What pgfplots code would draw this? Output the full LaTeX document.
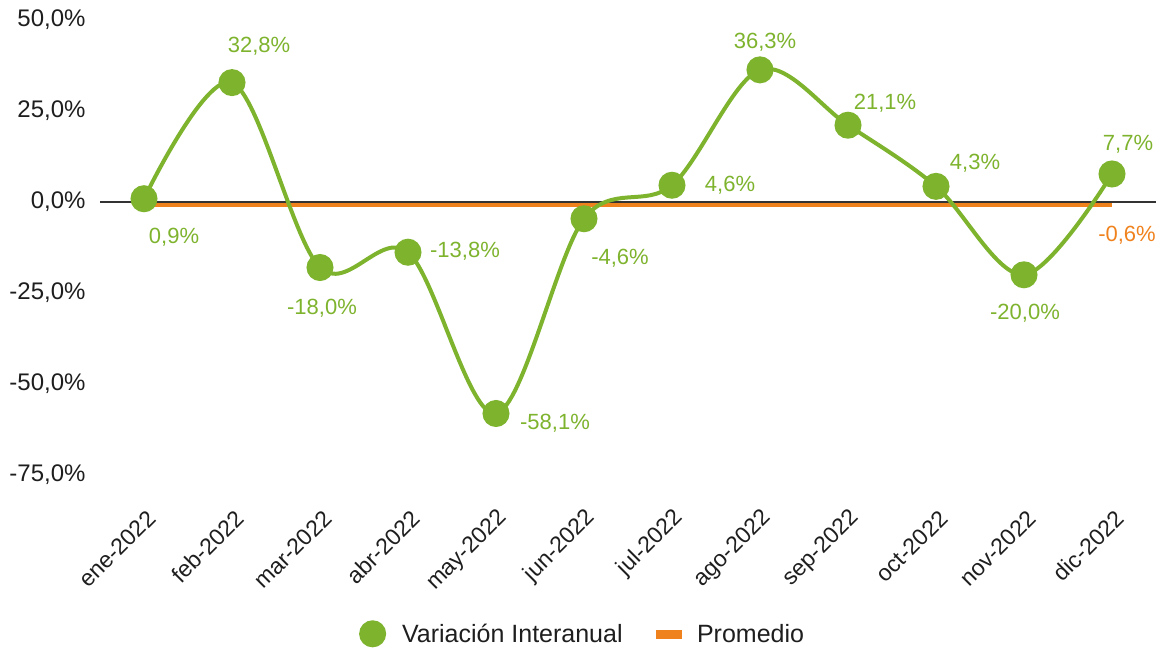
\documentclass[border=0pt]{standalone}
\usepackage{pgfplots}
\pgfplotsset{compat=1.18}
\usepackage{fontspec}
\setmainfont{Liberation Sans}
\definecolor{vgreen}{HTML}{7EB32E}
\definecolor{vorange}{HTML}{F0821E}
\definecolor{txt}{HTML}{1E1E1E}
\begin{document}
\begin{tikzpicture}
\begin{axis}[
  scale only axis,
  width=1056pt, height=455pt,
  xmin=-0.5, xmax=11.5,
  ymin=-75, ymax=50,
  axis line style={draw=none},
  tick style={draw=none},
  xtick={0,...,11},
  xticklabels={ene-2022,feb-2022,mar-2022,abr-2022,may-2022,jun-2022,jul-2022,ago-2022,sep-2022,oct-2022,nov-2022,dic-2022},
  ytick={-75,-50,-25,0,25,50},
  yticklabels={{-75,0\%},{-50,0\%},{-25,0\%},{0,0\%},{25,0\%},{50,0\%}},
  yticklabel style={font=\fontsize{24}{28}\selectfont, text=txt, xshift=-11pt},
  xticklabel style={font=\fontsize{23}{27}\selectfont, text=txt, xshift=10pt, yshift=-37pt, rotate=45, anchor=east},
  clip=false,
  legend style={at={(0.457,-0.349)}, anchor=center, draw=none, font=\fontsize{25}{29}\selectfont, text=txt, legend columns=2,
    /tikz/every odd column/.append style={column sep=14pt},
    /tikz/every even column/.append style={column sep=31pt}},
]
\coordinate (sw) at (rel axis cs:0,0);
\coordinate (ne) at (rel axis cs:1,1);
\addplot[vorange, line width=6.5pt, forget plot] coordinates {(0,-0.6) (11,-0.6)};
\draw[color=black!80, line width=2.5pt] (axis cs:-0.5,0) -- (axis cs:11.5,0);
\addplot[vgreen, line width=4pt, smooth, tension=0.55, mark=*, mark size=11.5pt, mark options={fill=vgreen, draw=none},
  legend image code/.code={\fill[vgreen] (11.5pt,0pt) circle (11.5pt);}] coordinates {
(0,0.9) (1,32.8) (2,-18.0) (3,-13.8) (4,-58.1) (5,-4.6) (6,4.6) (7,36.3) (8,21.1) (9,4.3) (10,-20.0) (11,7.7)};
\addlegendentry{Variación Interanual}
\addlegendimage{legend image code/.code={\fill[vorange] (0pt,-4pt) rectangle (25pt,4pt);}}
\addlegendentry{Promedio}
\begin{scope}[every node/.style={font=\fontsize{22}{26}\selectfont, text=vgreen}]
\node at ([shift={(30pt,-39pt)}]axis cs:0,0.9) {0,9\%};
\node at ([shift={(27pt,36pt)}]axis cs:1,32.8) {32,8\%};
\node at ([shift={(2pt,-41pt)}]axis cs:2,-18.0) {-18,0\%};
\node at ([shift={(57pt,1pt)}]axis cs:3,-13.8) {-13,8\%};
\node at ([shift={(59pt,-10pt)}]axis cs:4,-58.1) {-58,1\%};
\node at ([shift={(36pt,-39pt)}]axis cs:5,-4.6) {-4,6\%};
\node at ([shift={(58pt,0pt)}]axis cs:6,4.6) {4,6\%};
\node at ([shift={(5pt,28pt)}]axis cs:7,36.3) {36,3\%};
\node at ([shift={(37pt,22pt)}]axis cs:8,21.1) {21,1\%};
\node at ([shift={(39pt,23pt)}]axis cs:9,4.3) {4,3\%};
\node at ([shift={(1pt,-38pt)}]axis cs:10,-20.0) {-20,0\%};
\node at ([shift={(16pt,30pt)}]axis cs:11,7.7) {7,7\%};
\node[text=vorange] at ([shift={(15pt,-31pt)}]axis cs:11,-0.6) {-0,6\%};
\end{scope}
\end{axis}
\pgfresetboundingbox
\path ([shift={(-100pt,-174pt)}]sw) rectangle ([shift={(8pt,20pt)}]ne);
\end{tikzpicture}
\end{document}
